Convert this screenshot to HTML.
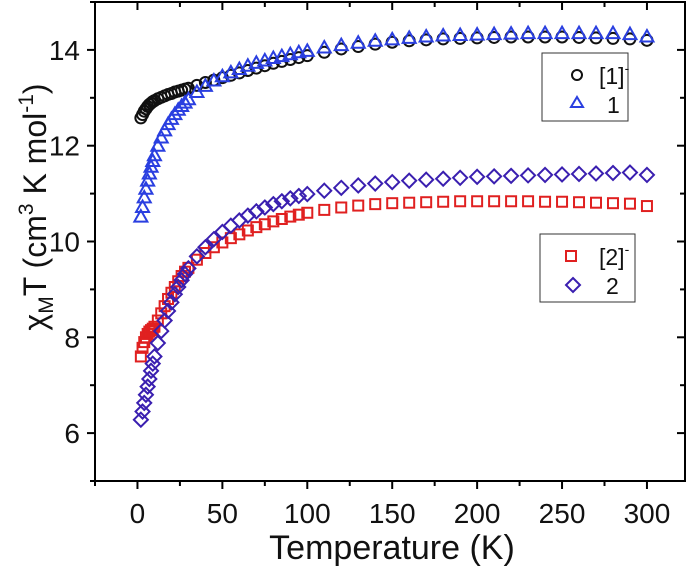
<!DOCTYPE html>
<html><head><meta charset="utf-8"><style>
body{margin:0;background:#fff;}
svg{display:block;font-family:"Liberation Sans",Arial,sans-serif;}
</style></head><body>
<svg id="chart" width="692" height="572" viewBox="0 0 692 572">
<g id="marks"></g>
<g id="axes"></g>
</svg>
<script>
const xTicks=[0,50,100,150,200,250,300];
const yTicks=[6,8,10,12,14];
const t1m=[2,3,4,5,6,7,8,9,10,12,14,16,18,20,22,24,26,28,30,35,40,45,50,55,60,65,70,75,80,85,90,95,100,110,120,130,140,150,160,170,180,190,200,210,220,230,240,250,260,270,280,290,300];
const v1m=[12.58,12.65,12.72,12.77,12.82,12.86,12.89,12.92,12.94,12.98,13.01,13.04,13.07,13.09,13.12,13.14,13.16,13.18,13.2,13.26,13.32,13.37,13.42,13.47,13.52,13.57,13.62,13.67,13.72,13.76,13.8,13.84,13.88,13.95,14.02,14.07,14.12,14.16,14.19,14.21,14.23,14.24,14.25,14.26,14.27,14.27,14.27,14.27,14.26,14.25,14.24,14.23,14.2];
const t1=[2,3,4,5,6,7,8,9,10,12,14,16,18,20,22,24,26,28,30,35,40,45,50,55,60,65,70,75,80,85,90,95,100,110,120,130,140,150,160,170,180,190,200,210,220,230,240,250,260,270,280,290,300];
const v1=[10.52,10.72,10.92,11.1,11.27,11.42,11.56,11.68,11.8,12.0,12.17,12.32,12.45,12.56,12.66,12.75,12.83,12.9,12.97,13.12,13.25,13.36,13.45,13.53,13.6,13.67,13.73,13.78,13.83,13.87,13.91,13.95,13.98,14.05,14.1,14.15,14.19,14.22,14.25,14.28,14.3,14.31,14.32,14.33,14.34,14.35,14.35,14.35,14.35,14.35,14.35,14.33,14.28];
const t2m=[2,3,4,5,6,7,8,9,10,12,14,16,18,20,22,24,26,28,30,35,40,45,50,55,60,65,70,75,80,85,90,95,100,110,120,130,140,150,160,170,180,190,200,210,220,230,240,250,260,270,280,290,300];
const v2m=[7.6,7.78,7.9,8.0,8.07,8.12,8.15,8.18,8.22,8.35,8.5,8.65,8.8,8.93,9.05,9.17,9.28,9.37,9.45,9.62,9.76,9.88,9.98,10.07,10.15,10.23,10.3,10.36,10.42,10.47,10.52,10.56,10.6,10.66,10.71,10.75,10.78,10.8,10.81,10.82,10.83,10.84,10.84,10.84,10.84,10.84,10.83,10.83,10.82,10.81,10.8,10.79,10.74];
const t2=[2,3,4,5,6,7,8,9,10,12,14,16,18,20,22,24,26,28,30,35,40,45,50,55,60,65,70,75,80,85,90,95,100,110,120,130,140,150,160,170,180,190,200,210,220,230,240,250,260,270,280,290,300];
const v2=[6.28,6.45,6.63,6.8,6.97,7.13,7.3,7.45,7.6,7.88,8.13,8.35,8.55,8.73,8.9,9.05,9.19,9.32,9.44,9.69,9.88,10.05,10.2,10.33,10.44,10.54,10.63,10.71,10.78,10.84,10.9,10.95,10.99,11.06,11.12,11.17,11.21,11.24,11.27,11.29,11.31,11.33,11.35,11.36,11.37,11.38,11.39,11.4,11.41,11.42,11.43,11.44,11.39];

const X0=-25,X1=322.4,Y0=5,Y1=15;
const L=95,R=685,T=2,B=481;
const sx=v=>L+(v-X0)/(X1-X0)*(R-L);
const sy=v=>B-(v-Y0)/(Y1-Y0)*(B-T);
const NS="http://www.w3.org/2000/svg";
const marks=document.getElementById('marks');
const axes=document.getElementById('axes');
function mk(tag,attrs,parent){const e=document.createElementNS(NS,tag);for(const k in attrs)e.setAttribute(k,attrs[k]);parent.appendChild(e);return e;}

function marker(shape,x,y,color,parent){
  let e;
  if(shape==='circle')e=mk('circle',{cx:x,cy:y,r:5.5,fill:'none',stroke:color,'stroke-width':2},parent);
  else if(shape==='tri')e=mk('polygon',{points:`${x},${y-6.5} ${x+6.5},${y+5} ${x-6.5},${y+5}`,fill:'none',stroke:color,'stroke-width':2},parent);
  else if(shape==='sq')e=mk('rect',{x:x-5,y:y-5,width:10,height:10,fill:'none',stroke:color,'stroke-width':2},parent);
  else e=mk('polygon',{points:`${x},${y-7} ${x+7},${y} ${x},${y+7} ${x-7},${y}`,fill:'none',stroke:color,'stroke-width':2},parent);
  return e;
}
function series(name,ts,vs,shape,color){
  const g=mk('g',{},marks);
  
  
  ts.forEach((t,i)=>{const e=marker(shape,sx(t),sy(vs[i]),color,g);
    
    });
}
series('series-1-anion',t1m,v1m,'circle','#111');
series('series-1',t1,v1,'tri','#2a3fe0');
series('series-2-anion',t2m,v2m,'sq','#e02020');
series('series-2',t2,v2,'dia','#3a1fb0');

const fr=mk('rect',{x:L,y:T,width:R-L,height:B-T,fill:'none',stroke:'#000','stroke-width':2},axes);


for(let v=-25;v<=300;v+=25){
  const x=sx(v),major=v%50===0;
  mk('line',{x1:x,y1:B,x2:x,y2:B+(major?8:5),stroke:'#000','stroke-width':2},axes);
  mk('line',{x1:x,y1:T,x2:x,y2:T+(major?8:5),stroke:'#000','stroke-width':2},axes);
}
xTicks.forEach(v=>{const t=mk('text',{x:sx(v),y:523,'text-anchor':'middle','font-size':28,fill:'#111'},axes);t.textContent=v;
  
  });
for(let v=5;v<=15;v+=1){
  const y=sy(v),major=v%2===0;
  mk('line',{x1:L,y1:y,x2:L-(major?8:5),y2:y,stroke:'#000','stroke-width':2},axes);
  mk('line',{x1:R,y1:y,x2:R-(major?8:5),y2:y,stroke:'#000','stroke-width':2},axes);
}
yTicks.forEach(v=>{const t=mk('text',{x:80,y:sy(v)+10,'text-anchor':'end','font-size':28,fill:'#111'},axes);t.textContent=v;
  
  });
</script>
<svg style="position:absolute;left:0;top:0" width="692" height="572">
<text x="392" y="559" text-anchor="middle" font-size="34" fill="#111" font-family="Liberation Sans,sans-serif">Temperature (K)</text>
<text transform="translate(46,207) rotate(-90)" text-anchor="middle" font-size="32" fill="#111" font-family="Liberation Sans,sans-serif">χ<tspan font-size="21" dy="7">M</tspan><tspan dy="-7">T (cm</tspan><tspan font-size="21" dy="-13">3</tspan><tspan dy="13"> K mol</tspan><tspan font-size="21" dy="-13">-1</tspan><tspan dy="13">)</tspan></text>
<g>
<rect x="542" y="53" width="86" height="68" fill="#fff" stroke="#333" stroke-width="1"/>
<circle cx="577" cy="75" r="5" fill="none" stroke="#111" stroke-width="2"/>
<text x="599" y="84" font-size="23" fill="#111" font-family="Liberation Sans,sans-serif">[1]<tspan font-size="14" dy="-11">-</tspan></text>
<polygon points="577,97 583,107 571,107" fill="none" stroke="#2a3fe0" stroke-width="2"/>
<text x="607" y="113" font-size="23" fill="#111" font-family="Liberation Sans,sans-serif">1</text>
</g>
<g>
<rect x="540" y="234" width="95" height="68" fill="#fff" stroke="#333" stroke-width="1"/>
<rect x="566" y="251" width="10" height="10" fill="none" stroke="#e02020" stroke-width="2"/>
<text x="599" y="265" font-size="23" fill="#111" font-family="Liberation Sans,sans-serif">[2]<tspan font-size="14" dy="-11">-</tspan></text>
<polygon points="573,278 580,285 573,292 566,285" fill="none" stroke="#3a1fb0" stroke-width="2"/>
<text x="606" y="294" font-size="23" fill="#111" font-family="Liberation Sans,sans-serif">2</text>
</g>
</svg>
</body></html>
